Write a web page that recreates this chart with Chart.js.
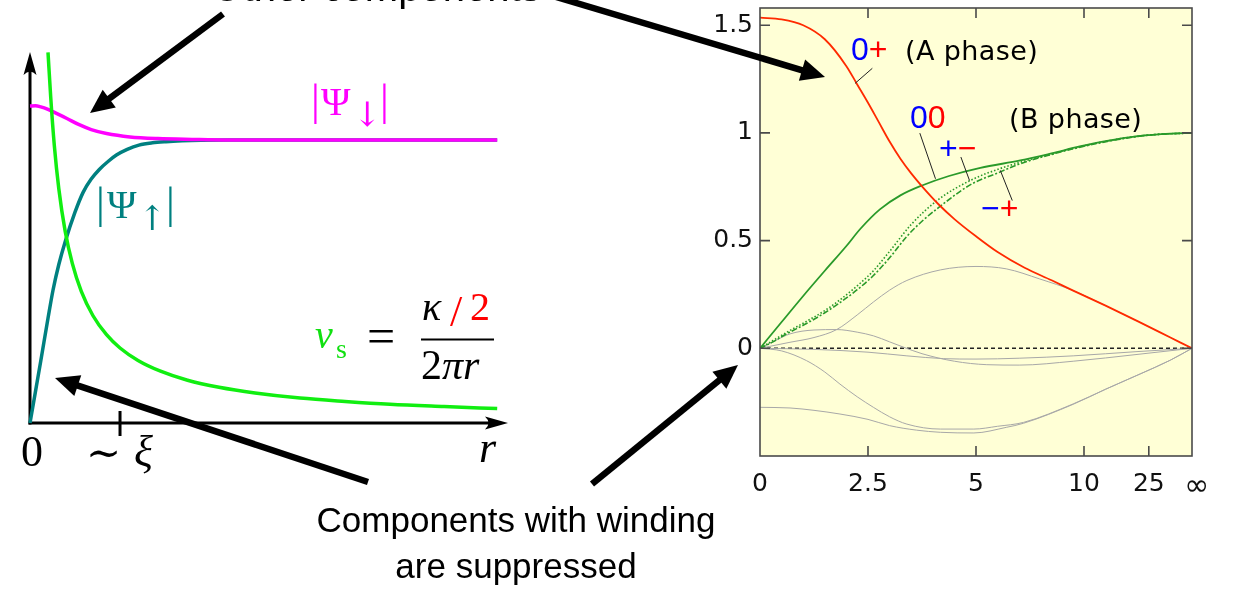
<!DOCTYPE html>
<html><head><meta charset="utf-8">
<script src="https://cdn.jsdelivr.net/npm/chart.js@4.4.1/dist/chart.umd.min.js"></script>
<style>
html,body{margin:0;padding:0;background:#fff;width:1235px;height:593px;overflow:hidden;}
canvas{position:absolute;left:0;top:0;}
svg{position:absolute;left:0;top:0;}
</style></head><body>
<canvas id="right" width="1235" height="593"></canvas>
<canvas id="left" width="1235" height="593"></canvas>
<svg id="ov" width="1235" height="593" xmlns="http://www.w3.org/2000/svg">
  <g id="arrows"></g>
  <g font-family="Liberation Sans, Arial, sans-serif" fill="#000">
    <text x="376" y="1" font-size="40" text-anchor="middle">Other components</text>
    <text x="516" y="532" font-size="35" text-anchor="middle">Components with winding</text>
    <text x="516" y="578" font-size="35" text-anchor="middle">are suppressed</text>
  </g>
  <g font-family="Liberation Serif, DejaVu Serif, serif">
    <g fill="#ff00ff">
      <text x="311" y="115" font-size="44">|</text>
      <text x="321" y="115" font-size="40">Ψ</text>
      <text x="353" y="126" font-size="34" font-family="DejaVu Serif">↓</text>
      <text x="380" y="115" font-size="44">|</text>
    </g>
    <g fill="#008080">
      <text x="96" y="218" font-size="44">|</text>
      <text x="107" y="218" font-size="40">Ψ</text>
      <text x="138" y="230" font-size="34" font-family="DejaVu Serif">↑</text>
      <text x="166" y="218" font-size="44">|</text>
    </g>
    <text x="315" y="348" font-size="40" font-style="italic" fill="#11e011">v</text>
    <text x="336" y="358" font-size="28" fill="#11e011">s</text>
    <text x="367" y="353" font-size="50" fill="#000">=</text>
    <text x="422" y="320" font-size="40" font-style="italic" fill="#000">κ</text>
    <text x="450" y="326" font-size="44" fill="#ff0000">/</text>
    <text x="470" y="320" font-size="40" fill="#ff0000">2</text>
    <line x1="421" y1="339.5" x2="494" y2="339.5" stroke="#000" stroke-width="1.8"/>
    <text x="421" y="379" font-size="42" fill="#000">2<tspan font-style="italic">πr</tspan></text>
    <text x="32" y="466" font-size="44" text-anchor="middle">0</text>
    <text x="86" y="467" font-size="42" font-family="DejaVu Serif">∼</text>
    <text x="134" y="466" font-size="44" font-style="italic">ξ</text>
    <text x="479" y="462" font-size="44" font-style="italic">r</text>
  </g>
  <g font-family="Liberation Sans, Arial, sans-serif" font-size="32">
    <text x="851" y="60"><tspan fill="#0000ff">0</tspan><tspan fill="#ff0000">+</tspan></text>
    <text x="910" y="128"><tspan fill="#0000ff">0</tspan><tspan fill="#ff0000">0</tspan></text>
    <text x="939" y="159"><tspan fill="#0000ff">+</tspan><tspan fill="#ff0000">−</tspan></text>
    <text x="981" y="219"><tspan fill="#0000ff">−</tspan><tspan fill="#ff0000">+</tspan></text>
  </g>
  <g font-family="DejaVu Sans, sans-serif" font-size="27" letter-spacing="0.4" fill="#000">
    <text x="905" y="60">(A phase)</text>
    <text x="1009" y="128">(B phase)</text>
  </g>
</svg>
<script>
// ---------------- Left panel data (r in units of xi, amplitude relative) ----------------
const leftXMax = 5.31;
const leftYMax = 1.311;
const xiTick = 1;

const vsR   = [0.2, 0.23, 0.27, 0.32, 0.39, 0.47, 0.57, 0.7, 0.85, 1.0, 1.2, 1.45, 1.75, 2.1, 2.5, 3.0, 3.5, 4.0, 4.6, 5.19];
const vsVal = [1.31, 1.152, 0.981, 0.828, 0.679, 0.564, 0.465, 0.379, 0.312, 0.265, 0.221, 0.183, 0.151, 0.126, 0.106, 0.088, 0.076, 0.066, 0.058, 0.051];

const psiDownR   = [0, 0.06, 0.12, 0.2, 0.3, 0.41, 0.54, 0.68, 0.85, 1.11, 1.42, 1.8, 2.2, 3.0, 5.19];
const psiDownVal = [1.12, 1.121, 1.117, 1.108, 1.093, 1.076, 1.055, 1.037, 1.023, 1.011, 1.005, 1.002, 1.0, 1.0, 1.0];

const psiUpR   = [0, 0.06, 0.12, 0.2, 0.256, 0.32, 0.39, 0.5, 0.59, 0.68, 0.77, 0.87, 0.96, 1.08, 1.21, 1.36, 1.51, 1.69, 1.9, 2.2, 3.0, 5.19];
const psiUpVal = [0, 0.11, 0.22, 0.37, 0.47, 0.56, 0.64, 0.745, 0.815, 0.862, 0.896, 0.925, 0.947, 0.967, 0.982, 0.99, 0.994, 0.997, 0.999, 1.0, 1.0, 1.0];

// ---------------- Right panel data (x on compactified radius axis) ----------------
const xTickPos    = [0, 1, 2, 3, 3.6, 4];
const xTickLabels = ['0', '2.5', '5', '10', '25', ' \u221E'];
const yTickPos    = [0, 0.5, 1, 1.5];
const yTickLabels = ['0', '0.5', '1', '1.5'];

const redT = [0, 0.2, 0.4, 0.6, 0.8, 0.9, 1.0, 1.1, 1.2, 1.3, 1.4, 1.5, 1.65, 1.8, 2.0, 2.2, 2.45, 2.7, 2.9, 3.2, 3.5, 3.8, 4.0];
const redV = [1.535, 1.527, 1.50, 1.435, 1.31, 1.225, 1.14, 1.05, 0.96, 0.88, 0.812, 0.752, 0.67, 0.60, 0.52, 0.447, 0.374, 0.316, 0.268, 0.198, 0.125, 0.05, 0];

const g00T = [0, 0.2, 0.4, 0.6, 0.8, 0.93, 1.11, 1.3, 1.5, 1.75, 2.04, 2.41, 2.7, 2.96, 3.2, 3.5, 3.8, 4.0];
const g00V = [0, 0.122, 0.243, 0.36, 0.475, 0.555, 0.645, 0.71, 0.756, 0.80, 0.838, 0.872, 0.905, 0.937, 0.962, 0.985, 0.997, 1.0];

const gPMT = [0, 0.12, 0.25, 0.43, 0.6, 0.74, 0.9, 1.05, 1.2, 1.4, 1.65, 1.95, 2.22, 2.44, 2.7, 3.0, 3.3, 3.6, 4.0];
const gPMV = [0, 0.036, 0.075, 0.125, 0.175, 0.225, 0.29, 0.36, 0.45, 0.575, 0.69, 0.78, 0.834, 0.868, 0.903, 0.94, 0.97, 0.99, 1.0];

const gMPT = [0, 0.12, 0.25, 0.43, 0.6, 0.74, 0.9, 1.05, 1.2, 1.36, 1.5, 1.65, 1.95, 2.22, 2.41, 2.7, 3.0, 3.3, 3.6, 4.0];
const gMPV = [0, 0.03, 0.068, 0.115, 0.165, 0.212, 0.272, 0.338, 0.42, 0.52, 0.59, 0.652, 0.76, 0.818, 0.857, 0.9, 0.938, 0.968, 0.99, 1.0];

const gray1T = [0, 0.278, 0.5, 0.71, 0.9, 1.05, 1.2, 1.36, 1.67, 2.0, 2.28, 2.59, 2.9, 3.2, 3.5, 3.8, 4.0];
const gray1V = [0, 0.028, 0.05, 0.087, 0.155, 0.215, 0.27, 0.315, 0.364, 0.38, 0.369, 0.322, 0.268, 0.198, 0.125, 0.05, 0];

const gray2T = [0, 0.14, 0.278, 0.5, 0.71, 0.9, 1.05, 1.2, 1.33, 1.5, 1.8, 2.1, 2.4, 2.9, 3.5, 4.0];
const gray2V = [0, 0.035, 0.067, 0.085, 0.087, 0.075, 0.058, 0.03, 0.005, -0.025, -0.06, -0.076, -0.078, -0.06, -0.028, 0];

const gray3T = [0, 0.5, 1.0, 1.36, 1.7, 2.0, 2.4, 2.9, 3.5, 4.0];
const gray3V = [0, -0.005, -0.018, -0.035, -0.048, -0.05, -0.046, -0.035, -0.015, 0];

const gray4T = [0, 0.2, 0.43, 0.6, 0.74, 0.9, 1.05, 1.2, 1.36, 1.67, 1.98, 2.2, 2.44, 2.9, 3.2, 3.52, 3.8, 4.0];
const gray4V = [0, -0.012, -0.057, -0.11, -0.166, -0.225, -0.274, -0.318, -0.352, -0.375, -0.375, -0.362, -0.344, -0.258, -0.19, -0.119, -0.055, 0];

const gray5T = [0, 0.278, 0.5, 0.74, 1.0, 1.2, 1.45, 1.67, 1.98, 2.28, 2.44, 2.9, 3.2, 3.52, 3.8, 4.0];
const gray5V = [-0.274, -0.277, -0.288, -0.305, -0.33, -0.359, -0.38, -0.39, -0.393, -0.367, -0.348, -0.26, -0.19, -0.119, -0.055, 0];

const zeroT = [0, 4];
const zeroV = [0, 0];

// leader lines: [labelX, labelY, curveX, curveY] in data units
const leaders = [[1.04, 1.30, 0.88, 1.23], [1.48, 0.999, 1.625, 0.787], [1.86, 0.888, 1.94, 0.779], [2.225, 0.826, 2.336, 0.686]];

// annotation arrows in page pixels: [x1,y1,x2(tip),y2(tip)]
const arrows = [[223, 14, 90, 113], [556, -3, 825, 77], [368, 482, 55, 378], [592, 484, 738, 365]];

function pts(xs, ys) { return xs.map((x, i) => ({x: x, y: ys[i]})); }

// ---------------- Left chart ----------------
const leftAxes = {
  id: 'leftAxes',
  beforeDatasetsDraw(chart) {
    const {ctx, scales: {x, y}} = chart;
    const x0 = x.getPixelForValue(0), y0 = y.getPixelForValue(0);
    const xEnd = x.getPixelForValue(x.max), yEnd = y.getPixelForValue(y.max);
    ctx.save();
    ctx.strokeStyle = '#000'; ctx.fillStyle = '#000'; ctx.lineWidth = 3;
    ctx.beginPath(); ctx.moveTo(x0, y0 + 1.5); ctx.lineTo(x0, yEnd + 14); ctx.stroke();
    ctx.beginPath(); ctx.moveTo(x0 - 1.5, y0); ctx.lineTo(xEnd - 14, y0); ctx.stroke();
    ctx.beginPath(); ctx.moveTo(x0, yEnd); ctx.lineTo(x0 - 6.5, yEnd + 23);
    ctx.quadraticCurveTo(x0, yEnd + 16, x0 + 6.5, yEnd + 23); ctx.closePath(); ctx.fill();
    ctx.beginPath(); ctx.moveTo(xEnd, y0); ctx.lineTo(xEnd - 23, y0 - 6.5);
    ctx.quadraticCurveTo(xEnd - 16, y0, xEnd - 23, y0 + 6.5); ctx.closePath(); ctx.fill();
    const xt = x.getPixelForValue(xiTick);
    ctx.beginPath(); ctx.moveTo(xt, y0 - 12); ctx.lineTo(xt, y0 + 13); ctx.stroke();
    ctx.restore();
  }
};

new Chart(document.getElementById('left'), {
  type: 'line',
  data: {
    datasets: [
      {data: pts(vsR, vsVal), borderColor: '#11ee11', borderWidth: 3.5},
      {data: pts(psiDownR, psiDownVal), borderColor: '#ff00ff', borderWidth: 3.5},
      {data: pts(psiUpR, psiUpVal), borderColor: '#008080', borderWidth: 3.5}
    ]
  },
  options: {
    responsive: false, animation: false, devicePixelRatio: 1,
    layout: {padding: {left: 30, top: 52, right: 727, bottom: 170}},
    elements: {point: {radius: 0}, line: {cubicInterpolationMode: 'monotone', borderCapStyle: 'butt'}},
    datasets: {line: {clip: false}},
    plugins: {legend: {display: false}, tooltip: {enabled: false}},
    scales: {
      x: {type: 'linear', min: 0, max: leftXMax, display: false},
      y: {type: 'linear', min: 0, max: leftYMax, display: false}
    }
  },
  plugins: [leftAxes]
});

// ---------------- Right chart ----------------
const BG = '#ffffd6';
const rightFrame = {
  id: 'rightFrame',
  beforeDraw(chart) {
    const {ctx, chartArea: a} = chart;
    ctx.save(); ctx.fillStyle = BG; ctx.fillRect(a.left, a.top, a.width, a.height); ctx.restore();
  },
  afterDatasetsDraw(chart) {
    const {ctx, chartArea: a, scales: {x, y}} = chart;
    ctx.save();
    ctx.strokeStyle = '#222'; ctx.lineWidth = 1;
    leaders.forEach(l => {
      ctx.beginPath();
      ctx.moveTo(x.getPixelForValue(l[0]), y.getPixelForValue(l[1]));
      ctx.lineTo(x.getPixelForValue(l[2]), y.getPixelForValue(l[3]));
      ctx.stroke();
    });
    ctx.strokeStyle = '#4a4a4a'; ctx.lineWidth = 1.6;
    ctx.strokeRect(a.left, a.top, a.width, a.height);
    ctx.beginPath();
    xTickPos.forEach(v => {
      if (v <= x.min || v >= x.max) return;
      const px = x.getPixelForValue(v);
      ctx.moveTo(px, a.bottom); ctx.lineTo(px, a.bottom - 10);
      ctx.moveTo(px, a.top); ctx.lineTo(px, a.top + 10);
    });
    yTickPos.forEach(v => {
      const py = y.getPixelForValue(v);
      ctx.moveTo(a.left, py); ctx.lineTo(a.left + 10, py);
      ctx.moveTo(a.right, py); ctx.lineTo(a.right - 10, py);
    });
    ctx.stroke();
    ctx.restore();
  }
};

const grayStyle = {borderColor: '#a8a8a8', borderWidth: 1};
new Chart(document.getElementById('right'), {
  type: 'line',
  data: {
    datasets: [
      {data: pts(redT, redV), borderColor: '#ff2a00', borderWidth: 1.8},
      {data: pts(g00T, g00V), borderColor: '#2a9a2a', borderWidth: 1.8},
      {data: pts(gPMT, gPMV), borderColor: '#2a9a2a', borderWidth: 1.6, borderDash: [1.5, 2]},
      {data: pts(gMPT, gMPV), borderColor: '#2a9a2a', borderWidth: 1.6, borderDash: [6, 2, 2, 2]},
      Object.assign({data: pts(gray1T, gray1V)}, grayStyle),
      Object.assign({data: pts(gray2T, gray2V)}, grayStyle),
      Object.assign({data: pts(gray3T, gray3V)}, grayStyle),
      Object.assign({data: pts(gray4T, gray4V)}, grayStyle),
      Object.assign({data: pts(gray5T, gray5V)}, grayStyle),
      {data: pts(zeroT, zeroV), borderColor: '#222', borderWidth: 1.4, borderDash: [4, 3], cubicInterpolationMode: 'default', tension: 0}
    ]
  },
  options: {
    responsive: false, animation: false, devicePixelRatio: 1,
    layout: {padding: {left: 0, top: 8, right: 43, bottom: 0}},
    elements: {point: {radius: 0}, line: {cubicInterpolationMode: 'monotone'}},
    plugins: {legend: {display: false}, tooltip: {enabled: false}},
    scales: {
      x: {
        type: 'linear', min: 0, max: 4,
        afterBuildTicks: s => { s.ticks = xTickPos.map(v => ({value: v})); },
        afterFit: s => { s.height = 137; s.paddingLeft = 0; s.paddingRight = 0; },
        grid: {display: false, drawTicks: false}, border: {display: false},
        ticks: {autoSkip: false, maxRotation: 0, padding: 13, color: '#111',
                font: c => ({family: 'DejaVu Sans', size: c.index === 5 ? 30 : 25}),
                callback: (v, i) => xTickLabels[i]}
      },
      y: {
        type: 'linear', min: -0.5, max: 1.58,
        afterBuildTicks: s => { s.ticks = yTickPos.map(v => ({value: v})); },
        afterFit: s => { s.width = 760; s.paddingTop = 0; s.paddingBottom = 0; },
        grid: {display: false, drawTicks: false}, border: {display: false},
        ticks: {autoSkip: false, padding: 7, color: '#111',
                font: {family: 'DejaVu Sans', size: 25},
                callback: (v, i) => yTickLabels[i]}
      }
    }
  },
  plugins: [rightFrame]
});

// ---------------- annotation arrows ----------------
(function () {
  const g = document.getElementById('arrows');
  const NS = 'http://www.w3.org/2000/svg';
  arrows.forEach(a => {
    const [x1, y1, x2, y2] = a;
    const dx = x2 - x1, dy = y2 - y1, len = Math.hypot(dx, dy);
    const ux = dx / len, uy = dy / len, L = 24, W = 11;
    const bx = x2 - ux * L, by = y2 - uy * L;
    const line = document.createElementNS(NS, 'line');
    line.setAttribute('x1', x1); line.setAttribute('y1', y1);
    line.setAttribute('x2', bx + ux * 3); line.setAttribute('y2', by + uy * 3);
    line.setAttribute('stroke', '#000'); line.setAttribute('stroke-width', '6.5');
    g.appendChild(line);
    const poly = document.createElementNS(NS, 'polygon');
    poly.setAttribute('points', [x2, y2, bx - uy * W, by + ux * W, bx + uy * W, by - ux * W].join(' '));
    poly.setAttribute('fill', '#000');
    g.appendChild(poly);
  });
})();
</script>
</body></html>
